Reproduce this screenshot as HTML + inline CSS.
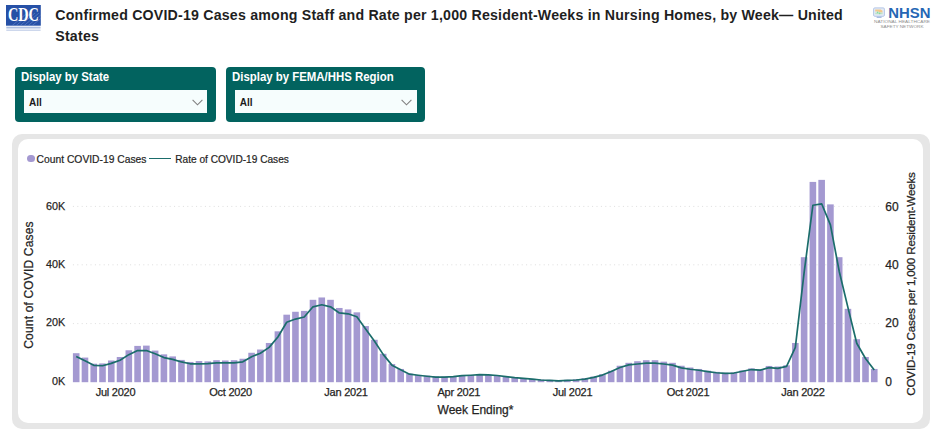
<!DOCTYPE html>
<html><head><meta charset="utf-8">
<style>
*{margin:0;padding:0;box-sizing:border-box}
html,body{width:936px;height:434px;background:#fff;overflow:hidden}
body{position:relative;font-family:"Liberation Sans",sans-serif;color:#252423}
.abs{position:absolute;white-space:nowrap;line-height:1}
.title{left:55.3px;top:5.3px;font-weight:bold;font-size:14.2px;letter-spacing:0.195px;line-height:20.5px;color:#1f1f1f;white-space:nowrap}
.slicer{position:absolute;top:66.8px;height:55.3px;background:#02635f;border-radius:4px}
.slicer .t{position:absolute;left:5.8px;top:3.5px;font-weight:bold;font-size:12.6px;transform-origin:0 50%;transform:scaleX(0.906);color:#fff;white-space:nowrap;line-height:14px}
.slicer .dd{position:absolute;left:9.2px;right:9.1px;top:23.2px;height:22.6px;background:#f6fdfd}
.slicer .dd span{position:absolute;left:4.7px;top:6.3px;font-size:10px;font-weight:bold;color:#1a1a1a;line-height:13px}
.slicer .dd svg{position:absolute;right:4.4px;top:9.1px}
.box{position:absolute;left:11.6px;top:133.85px;width:918.3px;height:294.85px;border-radius:10px;background:#e6e6e6}
.box2{position:absolute;left:17.8px;top:138.7px;width:905.5px;height:284.3px;border-radius:10px;background:#fff}
.chart{position:absolute;left:0;top:0}
.lbl{font-size:10.15px;color:#252423;-webkit-text-stroke:0.2px #252423}
.ax{font-size:12px;letter-spacing:0;color:#252423;-webkit-text-stroke:0.25px #252423}
.yl{font-size:11.8px;transform-origin:0 50%;transform:scaleX(0.915)}
.r{font-size:12px;letter-spacing:0;transform:translateY(-0.4px)}
.xl{font-size:11px;letter-spacing:-0.25px}
</style></head><body>
<!-- CDC logo -->
<svg class="abs" style="left:6px;top:5.3px" width="36" height="27" viewBox="0 0 36 27">
<rect x="0" y="0" width="34.8" height="20.7" fill="#2650a6"/>
<g stroke="#6d8fd0" stroke-width="0.7" opacity=".75"><line x1="6" y1="20.7" x2="20" y2="9"/><line x1="10" y1="20.7" x2="25" y2="8"/><line x1="14" y1="20.7" x2="29" y2="8"/><line x1="18" y1="20.7" x2="33" y2="8"/><line x1="22" y1="20.7" x2="34.8" y2="10"/><line x1="26" y1="20.7" x2="34.8" y2="13.5"/></g>
<text x="17.4" y="15.6" text-anchor="middle" font-family="Liberation Serif" font-weight="bold" font-size="19.5" fill="#fff" textLength="31" lengthAdjust="spacingAndGlyphs">CDC</text>
<rect x="0.3" y="21.7" width="34.3" height="1.8" fill="#aebfe0"/>
<rect x="0.3" y="24.5" width="34.3" height="1.5" fill="#cdd7ec"/>
</svg>
<div class="abs title">Confirmed COVID-19 Cases among Staff and Rate per 1,000 Resident-Weeks in Nursing Homes, by Week— United<br>States</div>
<!-- NHSN logo -->
<svg class="abs" style="left:870px;top:5px" width="64" height="26" viewBox="0 0 64 26">
<rect x="3.6" y="2.9" width="10.8" height="8.4" rx="1.2" fill="#e3eaf6" stroke="#b4c6e6" stroke-width="1"/>
<path d="M5.2 4.6 h5.5 l1.8 1.2 v1.6 h-3 l-1.2 -1 h-3.1z" fill="#f3c98b"/>
<rect x="5.2" y="7.6" width="7.4" height="1.6" fill="#bfe3c6"/>
<circle cx="7.6" cy="7.4" r="0.8" fill="#86dba0"/><circle cx="9.6" cy="8.4" r="0.8" fill="#86dba0"/>
<rect x="6.6" y="11.6" width="5" height="1.5" rx="0.5" fill="#a9bde2"/>
<text x="18.2" y="12.7" font-family="Liberation Sans" font-weight="bold" font-size="13.8" fill="#2566b4" textLength="42.2" lengthAdjust="spacingAndGlyphs">NHSN</text>
<text x="32" y="18.3" text-anchor="middle" font-family="Liberation Sans" font-size="3.6" fill="#8d8d8d" textLength="56" lengthAdjust="spacingAndGlyphs">NATIONAL HEALTHCARE</text>
<text x="32" y="22.6" text-anchor="middle" font-family="Liberation Sans" font-size="3.6" fill="#8d8d8d" textLength="43" lengthAdjust="spacingAndGlyphs">SAFETY NETWORK</text>
</svg>
<div class="slicer" style="left:15.1px;width:201px"><div class="t">Display by State</div><div class="dd"><span>All</span><svg width="11" height="7" viewBox="0 0 11 7"><path d="M0.6 0.8 L5.5 5.8 L10.4 0.8" fill="none" stroke="#808080" stroke-width="1.1"/></svg></div></div>
<div class="slicer" style="left:226.25px;width:198.75px"><div class="t" style="left:5.6px">Display by FEMA/HHS Region</div><div class="dd" style="left:8.75px;right:8.5px"><span>All</span><svg width="11" height="7" viewBox="0 0 11 7"><path d="M0.6 0.8 L5.5 5.8 L10.4 0.8" fill="none" stroke="#808080" stroke-width="1.1"/></svg></div></div>
<div class="box"></div><div class="box2"></div>
<svg class="chart" width="936" height="434" viewBox="0 0 936 434">
<g stroke="#dedede" stroke-width="1" stroke-dasharray="1 3.4"><line x1="72.9" x2="879" y1="323.6" y2="323.6"/><line x1="72.9" x2="879" y1="264.8" y2="264.8"/><line x1="72.9" x2="879" y1="206.4" y2="206.4"/></g>
<g fill="#a499d1"><rect x="72.90" y="353.20" width="6.6" height="29.00"/><rect x="81.67" y="357.57" width="6.6" height="24.63"/><rect x="90.44" y="363.70" width="6.6" height="18.50"/><rect x="99.21" y="363.41" width="6.6" height="18.79"/><rect x="107.98" y="360.49" width="6.6" height="21.71"/><rect x="116.75" y="356.99" width="6.6" height="25.21"/><rect x="125.52" y="350.28" width="6.6" height="31.92"/><rect x="134.29" y="345.90" width="6.6" height="36.30"/><rect x="143.06" y="345.61" width="6.6" height="36.59"/><rect x="151.83" y="350.57" width="6.6" height="31.63"/><rect x="160.60" y="354.36" width="6.6" height="27.84"/><rect x="169.37" y="356.41" width="6.6" height="25.79"/><rect x="178.14" y="359.91" width="6.6" height="22.29"/><rect x="186.91" y="361.95" width="6.6" height="20.25"/><rect x="195.68" y="361.07" width="6.6" height="21.13"/><rect x="204.45" y="361.37" width="6.6" height="20.83"/><rect x="213.22" y="360.20" width="6.6" height="22.00"/><rect x="221.99" y="360.49" width="6.6" height="21.71"/><rect x="230.76" y="360.20" width="6.6" height="22.00"/><rect x="239.53" y="358.74" width="6.6" height="23.46"/><rect x="248.30" y="352.76" width="6.6" height="29.44"/><rect x="257.07" y="349.52" width="6.6" height="32.68"/><rect x="265.84" y="342.98" width="6.6" height="39.22"/><rect x="274.61" y="331.31" width="6.6" height="50.89"/><rect x="283.38" y="314.68" width="6.6" height="67.52"/><rect x="292.15" y="311.76" width="6.6" height="70.44"/><rect x="300.92" y="310.88" width="6.6" height="71.32"/><rect x="309.69" y="299.80" width="6.6" height="82.40"/><rect x="318.46" y="297.46" width="6.6" height="84.74"/><rect x="327.23" y="299.80" width="6.6" height="82.40"/><rect x="336.00" y="307.97" width="6.6" height="74.23"/><rect x="344.77" y="309.43" width="6.6" height="72.77"/><rect x="353.54" y="312.34" width="6.6" height="69.86"/><rect x="362.31" y="326.06" width="6.6" height="56.14"/><rect x="371.08" y="339.77" width="6.6" height="42.43"/><rect x="379.85" y="353.78" width="6.6" height="28.42"/><rect x="388.62" y="363.99" width="6.6" height="18.21"/><rect x="397.39" y="368.95" width="6.6" height="13.25"/><rect x="406.16" y="373.62" width="6.6" height="8.58"/><rect x="414.93" y="375.08" width="6.6" height="7.12"/><rect x="423.70" y="375.66" width="6.6" height="6.54"/><rect x="432.47" y="376.39" width="6.6" height="5.81"/><rect x="441.24" y="376.54" width="6.6" height="5.66"/><rect x="450.01" y="376.25" width="6.6" height="5.95"/><rect x="458.78" y="375.37" width="6.6" height="6.83"/><rect x="467.55" y="375.08" width="6.6" height="7.12"/><rect x="476.32" y="374.50" width="6.6" height="7.70"/><rect x="485.09" y="374.79" width="6.6" height="7.41"/><rect x="493.86" y="375.37" width="6.6" height="6.83"/><rect x="502.63" y="376.25" width="6.6" height="5.95"/><rect x="511.40" y="377.41" width="6.6" height="4.79"/><rect x="520.17" y="378.14" width="6.6" height="4.06"/><rect x="528.94" y="378.87" width="6.6" height="3.33"/><rect x="537.71" y="379.60" width="6.6" height="2.60"/><rect x="546.48" y="379.90" width="6.6" height="2.30"/><rect x="555.25" y="380.04" width="6.6" height="2.16"/><rect x="564.02" y="379.84" width="6.6" height="2.36"/><rect x="572.79" y="379.31" width="6.6" height="2.89"/><rect x="581.56" y="378.29" width="6.6" height="3.91"/><rect x="590.33" y="376.63" width="6.6" height="5.57"/><rect x="599.10" y="374.20" width="6.6" height="8.00"/><rect x="607.87" y="370.70" width="6.6" height="11.50"/><rect x="616.64" y="365.74" width="6.6" height="16.46"/><rect x="625.41" y="362.82" width="6.6" height="19.38"/><rect x="634.18" y="361.22" width="6.6" height="20.98"/><rect x="642.95" y="360.20" width="6.6" height="22.00"/><rect x="651.72" y="360.20" width="6.6" height="22.00"/><rect x="660.49" y="361.66" width="6.6" height="20.54"/><rect x="669.26" y="362.82" width="6.6" height="19.38"/><rect x="678.03" y="365.74" width="6.6" height="16.46"/><rect x="686.80" y="367.49" width="6.6" height="14.71"/><rect x="695.57" y="368.95" width="6.6" height="13.25"/><rect x="704.34" y="370.70" width="6.6" height="11.50"/><rect x="713.11" y="371.87" width="6.6" height="10.33"/><rect x="721.88" y="372.75" width="6.6" height="9.45"/><rect x="730.65" y="372.45" width="6.6" height="9.75"/><rect x="739.42" y="370.41" width="6.6" height="11.79"/><rect x="748.19" y="368.37" width="6.6" height="13.83"/><rect x="756.96" y="369.54" width="6.6" height="12.66"/><rect x="765.73" y="365.95" width="6.6" height="16.25"/><rect x="774.50" y="366.50" width="6.6" height="15.70"/><rect x="783.27" y="365.25" width="6.6" height="16.95"/><rect x="792.04" y="342.98" width="6.6" height="39.22"/><rect x="800.81" y="257.19" width="6.6" height="125.01"/><rect x="809.58" y="181.91" width="6.6" height="200.29"/><rect x="818.35" y="179.87" width="6.6" height="202.33"/><rect x="827.12" y="204.38" width="6.6" height="177.82"/><rect x="835.89" y="257.19" width="6.6" height="125.01"/><rect x="844.66" y="308.84" width="6.6" height="73.36"/><rect x="853.43" y="339.19" width="6.6" height="43.01"/><rect x="862.20" y="356.99" width="6.6" height="25.21"/><rect x="870.97" y="368.95" width="6.6" height="13.25"/></g>
<polyline fill="none" stroke="#1b6d6b" stroke-width="1.7" stroke-linejoin="round" points="76.20,356.41 84.97,360.78 93.74,365.28 102.51,365.74 111.28,363.41 120.05,360.20 128.82,354.65 137.59,350.57 146.36,350.57 155.13,353.78 163.90,357.57 172.67,359.32 181.44,361.95 190.21,363.79 198.98,363.79 207.75,363.70 216.52,362.82 225.29,362.97 234.06,362.82 242.83,361.80 251.60,356.70 260.37,353.20 269.14,347.36 277.91,337.00 286.68,322.26 295.45,319.05 304.22,317.01 312.99,306.80 321.76,304.76 330.53,306.80 339.30,312.93 348.07,313.80 356.84,316.72 365.61,328.98 374.38,340.94 383.15,354.36 391.92,365.16 400.69,369.83 409.46,374.20 418.23,375.23 427.00,376.25 435.77,377.12 444.54,377.12 453.31,376.69 462.08,375.66 470.85,375.23 479.62,374.67 488.39,374.93 497.16,375.52 505.93,376.54 514.70,377.62 523.47,378.32 532.24,379.17 541.01,379.98 549.78,380.45 558.55,380.92 567.32,380.45 576.09,379.98 584.86,379.17 593.63,377.41 602.40,375.08 611.17,371.58 619.94,367.49 628.71,364.87 637.48,363.99 646.25,363.12 655.02,363.12 663.79,363.99 672.56,365.16 681.33,367.93 690.10,369.24 698.87,370.27 707.64,371.58 716.41,372.75 725.18,373.33 733.95,373.04 742.72,371.29 751.49,369.54 760.26,370.12 769.03,367.61 777.80,368.37 786.57,366.33 795.34,347.36 804.11,272.66 812.88,205.25 821.65,203.79 830.42,224.80 839.19,271.20 847.96,307.67 856.73,343.27 865.50,358.45 874.27,369.97"/>
</svg>
<!-- legend -->
<div class="abs" style="left:27.2px;top:154.9px;width:7.4px;height:7.4px;border-radius:50%;background:#a499d1"></div>
<div class="abs lbl" id="lg1" style="left:36.6px;top:154.9px;font-size:10.3px">Count COVID-19 Cases</div>
<div class="abs" style="left:149.4px;top:157.7px;width:21.2px;height:1.8px;background:#1b6d6b"></div>
<div class="abs lbl" id="lg2" style="left:175.2px;top:154.9px">Rate of COVID-19 Cases</div>
<!-- y left -->
<div class="abs ax yl" style="left:46px;top:200.6px" id="y60">60K</div>
<div class="abs ax yl" style="left:46px;top:258.9px">40K</div>
<div class="abs ax yl" style="left:46px;top:317.2px">20K</div>
<div class="abs ax yl" style="left:52.2px;top:375.6px">0K</div>
<!-- y right -->
<div class="abs ax r" style="left:885.3px;top:200.8px">60</div>
<div class="abs ax r" style="left:885.3px;top:259.1px">40</div>
<div class="abs ax r" style="left:885.3px;top:317.40000000000003px">20</div>
<div class="abs ax r" style="left:885.3px;top:375.8px">0</div>
<!-- x -->
<div class="abs ax xl" style="left:115.5px;top:387px">Jul 2020</div>
<div class="abs ax xl" style="left:230.6px;top:387px">Oct 2020</div>
<div class="abs ax xl" style="left:346px;top:387px">Jan 2021</div>
<div class="abs ax xl" style="left:458.8px;top:387px">Apr 2021</div>
<div class="abs ax xl" style="left:572.5px;top:387px">Jul 2021</div>
<div class="abs ax xl" style="left:688px;top:387px">Oct 2021</div>
<div class="abs ax xl" style="left:803px;top:387px">Jan 2022</div>
<div class="abs ax xl" id="we" style="left:475.5px;top:403.6px;font-size:12px;letter-spacing:0">Week Ending*</div>
<div class="abs ax" id="yt1" style="left:29.1px;top:285.2px;font-size:12px;letter-spacing:0.17px;transform:translate(-50%,-50%) rotate(-90deg)">Count of COVID Cases</div>
<div class="abs ax" id="yt2" style="left:911.3px;top:283.8px;font-size:11.7px;letter-spacing:-0.21px;transform:translate(-50%,-50%) rotate(-90deg)">COVID-19 Cases per 1,000 Resident-Weeks</div>
<style>.xl{transform:translateX(-50%)}</style>
</body></html>
